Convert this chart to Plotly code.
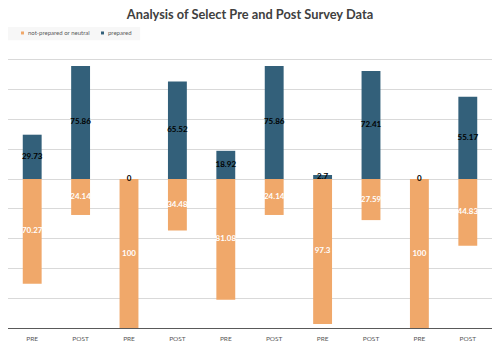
import plotly.graph_objects as go

categories = ["PRE", "POST", "PRE", "POST", "PRE", "POST", "PRE", "POST", "PRE", "POST"]
not_prepared = [70.27, 24.14, 100, 34.48, 81.08, 24.14, 97.3, 27.59, 100, 44.83]
prepared = [29.73, 75.86, 0, 65.52, 18.92, 75.86, 2.7, 72.41, 0, 55.17]
series_names = ["not-prepared or neutral", "prepared"]

x = list(range(len(categories)))
ORANGE = "#f0a86a"
BLUE = "#33607a"
COLORS = [ORANGE, BLUE]

fig = go.Figure()
fig.add_trace(go.Bar(x=x, y=[-v for v in not_prepared], name=series_names[0],
                     marker=dict(color=ORANGE, line=dict(width=0)), width=0.39,
                     hoverinfo="skip", showlegend=False))
fig.add_trace(go.Bar(x=x, y=prepared, name=series_names[1],
                     marker=dict(color=BLUE, line=dict(width=0)), width=0.39,
                     hoverinfo="skip", showlegend=False))

fig.add_trace(go.Scatter(x=x, y=[-v / 2 for v in not_prepared], mode="text",
                         text=[f"{v:g}" for v in not_prepared],
                         textfont=dict(family="Lato", size=8, color="white", weight="bold"),
                         showlegend=False, hoverinfo="skip"))
fig.add_trace(go.Scatter(x=x, y=[v / 2 for v in prepared], mode="text",
                         text=[f"{v:g}" for v in prepared],
                         textfont=dict(family="Lato", size=8, color="black", weight="bold"),
                         showlegend=False, hoverinfo="skip"))

# Custom compact legend (Excel style) in paper coordinates
fig.add_shape(type="rect", xref="paper", yref="paper", x0=0, x1=0.273, y0=0.966, y1=1.010,
              fillcolor="#f7f7f7", line=dict(width=0), layer="above")
legend_x = [(0.0269, 0.0372), (0.1921, 0.2025)]
for (sx, tx), nm, col in zip(legend_x, series_names, COLORS):
    fig.add_shape(type="rect", xref="paper", yref="paper", x0=sx, x1=sx + 0.0062,
                  y0=0.985, y1=0.995, fillcolor=col, line=dict(width=0), layer="above")
    fig.add_annotation(text=nm, xref="paper", yref="paper", x=tx, y=0.99,
                       xanchor="left", yanchor="middle", showarrow=False,
                       font=dict(family="Lato", size=6, color="#595959"))

fig.update_layout(
    width=500, height=362,
    margin=dict(l=8, r=8, t=30, b=34, autoexpand=False),
    paper_bgcolor="white", plot_bgcolor="white",
    barmode="relative",
    hovermode=False,
    title=dict(text="<b>Analysis of Select Pre and Post Survey Data</b>", x=0.5, xanchor="center",
               y=0.9586, yanchor="middle",
               font=dict(family="Lato", size=12.8, color="#404040")),
    xaxis=dict(tickmode="array", tickvals=x, ticktext=categories, range=[-0.5, len(x) - 0.5],
               showgrid=False, showline=True, linecolor="#595959", linewidth=1,
               tickfont=dict(family="Lato", size=6.5, color="#595959"), ticks="",
               ticklabelstandoff=4),
    yaxis=dict(range=[-100, 100], dtick=20, showgrid=True, gridcolor="#d9d9d9", gridwidth=1,
               zeroline=False, showticklabels=False, showline=False),
    showlegend=False,
)

fig.write_html("out.html", config={"displayModeBar": False},
               post_script="document.body.style.margin='0px';")
